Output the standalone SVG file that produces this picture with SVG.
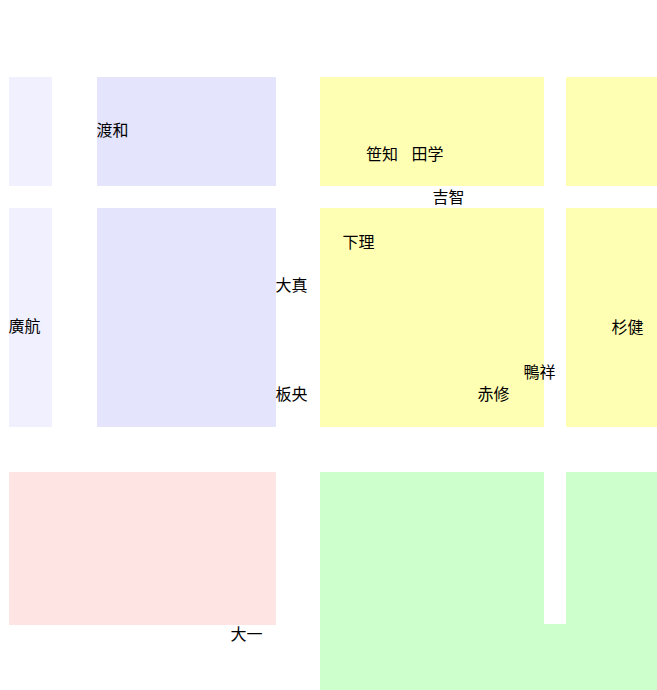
<svg xmlns="http://www.w3.org/2000/svg" width="657" height="690" viewBox="0 0 657 690">
<style>
.lt{fill:#f0f0ff}
.pu{fill:#e4e4fc}
.ye{fill:#ffffb3}
.pk{fill:#ffe4e4}
.gr{fill:#ccffcc}
text{font-family:"Noto Sans CJK SC","Noto Sans CJK JP",sans-serif;font-size:16px;fill:#000}
</style>
<rect width="657" height="690" fill="#ffffff"/>
<g id="areas">
<rect class="lt" x="9" y="77" width="43" height="109"/>
<rect class="lt" x="9" y="208" width="43" height="219"/>
<rect class="pu" x="97" y="77" width="179" height="109"/>
<rect class="pu" x="97" y="208" width="179" height="219"/>
<rect class="ye" x="320" y="77" width="224" height="109"/>
<rect class="ye" x="566" y="77" width="91" height="109"/>
<rect class="ye" x="320" y="208" width="224" height="219"/>
<rect class="ye" x="566" y="208" width="91" height="219"/>
<rect class="pk" x="9" y="472" width="267" height="153"/>
<path class="gr" d="M320 472H544V624H566V472H657V690H320Z"/>
</g>
<g id="labels">
<text x="96.5" y="136">渡和</text>
<text x="366" y="159.5">笹知</text>
<text x="411.5" y="159.5">田学</text>
<text x="432.5" y="203">吉智</text>
<text x="342.5" y="248">下理</text>
<text x="275.5" y="291">大真</text>
<text x="275.5" y="400">板央</text>
<text x="477.5" y="400">赤修</text>
<text x="523.5" y="378">鴨祥</text>
<text x="611.5" y="333">杉健</text>
<text x="8.5" y="332">廣航</text>
<text x="230.5" y="640">大一</text>
</g>
</svg>
